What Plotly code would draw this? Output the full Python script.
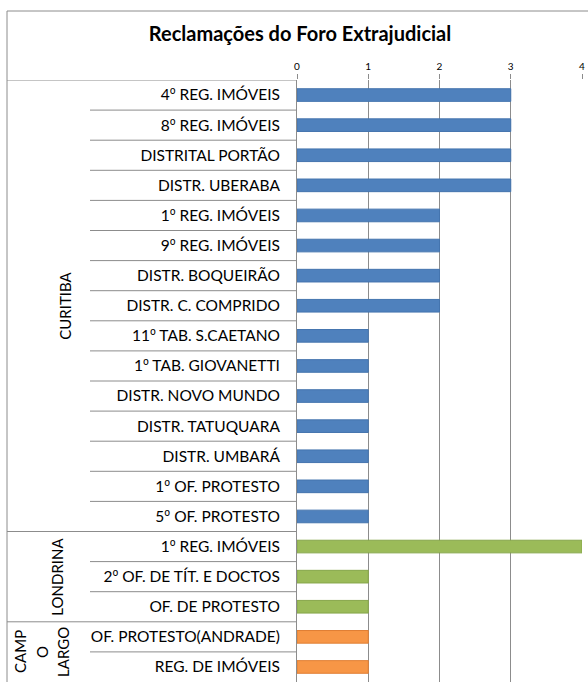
import plotly.graph_objects as go

# ---- data ----
categories = [
    "4º REG. IMÓVEIS", "8º REG. IMÓVEIS", "DISTRITAL PORTÃO", "DISTR. UBERABA",
    "1º REG. IMÓVEIS", "9º REG. IMÓVEIS", "DISTR. BOQUEIRÃO", "DISTR. C. COMPRIDO",
    "11º TAB. S.CAETANO", "1º TAB. GIOVANETTI", "DISTR. NOVO MUNDO", "DISTR. TATUQUARA",
    "DISTR. UMBARÁ", "1º OF. PROTESTO", "5º OF. PROTESTO",
    "1º REG. IMÓVEIS", "2º OF. DE TÍT. E DOCTOS", "OF. DE PROTESTO",
    "OF. PROTESTO(ANDRADE)", "REG. DE IMÓVEIS",
]
groups = ["CURITIBA"] * 15 + ["LONDRINA"] * 3 + ["CAMPO LARGO"] * 2
values = [3, 3, 3, 3, 2, 2, 2, 2, 1, 1, 1, 1, 1, 1, 1, 4, 1, 1, 1, 1]
group_names = ["CURITIBA", "LONDRINA", "CAMPO LARGO"]
group_label_lines = {"CURITIBA": ["CURITIBA"], "LONDRINA": ["LONDRINA"],
                     "CAMPO LARGO": ["CAMP", "O", "LARGO"]}
group_colors = ["#4F81BD", "#9BBB59", "#F79646"]
group_edge = ["#4474AE", "#86A64A", "#E07E33"]
x_ticks = [0, 1, 2, 3, 4]

W, H = 588, 682
FONT = "Lato"


def fx(px):
    return px / W


def fy(py):
    return 1 - py / H


# ordinal indicator drawn with a font that shows the underlined form
tick_text = [c.replace("º", "<span style=\"font-family:'Noto Sans'\">º</span>")
             for c in categories]

fig = go.Figure()
for g, c, e in zip(group_names, group_colors, group_edge):
    idx = [i for i, gg in enumerate(groups) if gg == g]
    fig.add_trace(go.Bar(
        y=idx, x=[values[i] for i in idx], orientation="h",
        marker=dict(color=c, line=dict(color=e, width=1)),
        width=0.42, showlegend=False, hoverinfo="x",
    ))

x0 = fx(297)
x1 = fx(582)
ytop = fy(80)

fig.update_layout(
    width=W, height=H,
    margin=dict(l=0, r=0, t=0, b=0),
    paper_bgcolor="white", plot_bgcolor="white",
    font=dict(family=FONT, color="#000000"),
    title=dict(text="<b>Reclamações do Foro Extrajudicial</b>",
               x=fx(300), xanchor="center", y=fy(34), yanchor="middle",
               font=dict(family=FONT, size=20, color="#000000")),
    xaxis=dict(domain=[x0, x1], side="top", range=[0, 4], tickvals=x_ticks,
               showgrid=True, gridcolor="#8C8C8C", gridwidth=1,
               zeroline=False, ticks="outside", ticklen=5, tickcolor="#8C8C8C",
               tickfont=dict(size=10, family=FONT, color="#000000"),
               showline=False, fixedrange=True, automargin=False),
    yaxis=dict(domain=[0, ytop], range=[len(categories) - 0.5, -0.5],
               tickvals=list(range(len(categories))), ticktext=tick_text,
               ticks="", ticklabelstandoff=13,
               tickfont=dict(size=15.5, family=FONT, color="#000000"),
               showline=True, linecolor="#8C8C8C", linewidth=1,
               showgrid=False, zeroline=False, fixedrange=True, automargin=False),
)

# table lines (label area)
shapes = []
lx_outer = fx(7)
lx_inner = fx(90)
for i in range(len(categories)):
    xs = lx_outer if (i == 0 or groups[i] != groups[i - 1]) else lx_inner
    shapes.append(dict(type="line", xref="paper", yref="y", x0=xs, x1=x0,
                       y0=i - 0.5, y1=i - 0.5, line=dict(color="#8C8C8C", width=1)))
# outer border
shapes.append(dict(type="line", xref="paper", yref="paper", x0=lx_outer, x1=1,
                   y0=fy(11), y1=fy(11), line=dict(color="#8C8C8C", width=1)))
shapes.append(dict(type="line", xref="paper", yref="paper", x0=lx_outer, x1=lx_outer,
                   y0=0, y1=fy(11), line=dict(color="#8C8C8C", width=1)))
fig.update_layout(shapes=shapes)

# group labels (rotated)
group_x = {"CURITIBA": [65], "LONDRINA": [57], "CAMPO LARGO": [20, 42, 63]}
for g in group_names:
    idx = [i for i, gg in enumerate(groups) if gg == g]
    for line, xp in zip(group_label_lines[g], group_x[g]):
        fig.add_annotation(xref="paper", yref="y", x=fx(xp), y=(idx[0] + idx[-1]) / 2,
                           text=line, textangle=-90, showarrow=False, align="center",
                           xanchor="center", yanchor="middle",
                           font=dict(size=15, family=FONT, color="#000000"))

fig.write_html(
    "out.html",
    config={"displayModeBar": False},
    post_script="document.body.style.margin='0';document.body.style.overflow='hidden';",
)
